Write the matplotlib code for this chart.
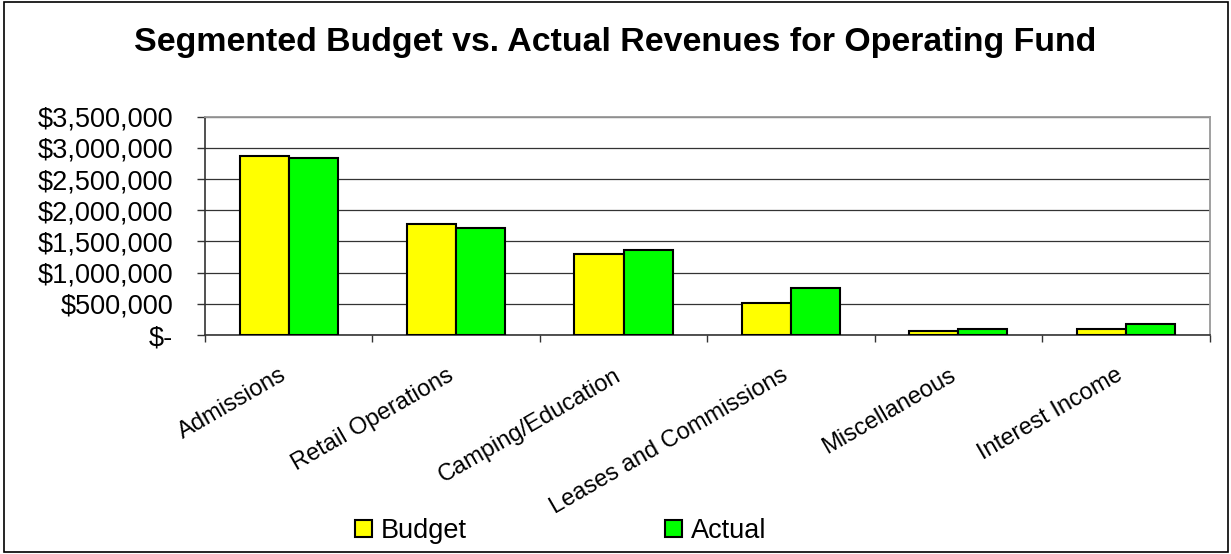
import matplotlib
matplotlib.use("Agg")
import matplotlib.pyplot as plt
import matplotlib.transforms as mtransforms
from matplotlib.patches import Patch, Rectangle
import numpy as np

plt.rcParams['font.family'] = ['Liberation Sans', 'DejaVu Sans']

categories = ["Admissions", "Retail Operations", "Camping/Education",
              "Leases and Commissions", "Miscellaneous", "Interest Income"]
budget = [2870000, 1775000, 1300000, 513000, 64000, 100000]
actual = [2840000, 1715000, 1360000, 748000, 102000, 170000]
y_ticks = [0, 500000, 1000000, 1500000, 2000000, 2500000, 3000000, 3500000]
y_tick_labels = ["$-", "$500,000", "$1,000,000", "$1,500,000", "$2,000,000",
                 "$2,500,000", "$3,000,000", "$3,500,000"]

W, H, DPI = 1231, 554, 100
fig = plt.figure(figsize=(W / DPI, H / DPI), dpi=DPI)
fig.patch.set_facecolor("white")

left, right, top, bottom = 205 / W, 1209.5 / W, 1 - 116.7 / H, 1 - 335 / H
ax = fig.add_axes([left, bottom, right - left, top - bottom])

x = np.arange(len(categories))
bw = 0.293
ax.bar(x - bw / 2, budget, bw, color="#FFFF00", edgecolor="black", linewidth=1.5,
       label="Budget", zorder=3)
ax.bar(x + bw / 2, actual, bw, color="#00FF00", edgecolor="black", linewidth=1.5,
       label="Actual", zorder=3)

ax.set_xlim(-0.5, len(categories) - 0.5)
ax.set_ylim(0, 3500000)

ax.set_yticks(y_ticks)
ax.set_yticklabels(y_tick_labels, fontsize=19.5)
ax.tick_params(axis="y", direction="out", length=5.8, width=1, pad=17,
               color="#333333")
ax.yaxis.grid(True, color="#333333", linewidth=0.9, zorder=0)
ax.set_axisbelow(True)

# boundaries between categories carry the ticks; names sit at the centres
ax.set_xticks(np.arange(len(categories) + 1) - 0.5)
ax.set_xticklabels([])
ax.tick_params(axis="x", which="major", direction="out", length=5, width=1,
               color="#333333")
ax.set_xticks(x, minor=True)
ax.set_xticklabels(categories, minor=True, fontsize=17, rotation=30,
                   ha="right", va="top", rotation_mode="anchor")
ax.tick_params(axis="x", which="minor", length=0, pad=21)
shift = mtransforms.ScaledTranslation(-10 / DPI, 0, fig.dpi_scale_trans)
for lab in ax.get_xticklabels(minor=True):
    lab.set_transform(lab.get_transform() + shift)

for side in ("top", "right"):
    ax.spines[side].set_color("#999999")
    ax.spines[side].set_linewidth(1.3)
for side in ("left", "bottom"):
    ax.spines[side].set_color("#333333")
    ax.spines[side].set_linewidth(1.2)

fig.text(0.5, 1 - 43 / H, "Segmented Budget vs. Actual Revenues for Operating Fund",
         ha="center", va="center", fontsize=24.4, fontweight="bold")

handles = [Patch(facecolor="#FFFF00", edgecolor="black", linewidth=1.5),
           Patch(facecolor="#00FF00", edgecolor="black", linewidth=1.5)]
fig.legend(handles, ["Budget", "Actual"], loc="center left",
           bbox_to_anchor=(355 / W, 1 - 531 / H), ncol=2, frameon=False,
           fontsize=19.5, handlelength=0.63, handleheight=0.63,
           handletextpad=0.33, columnspacing=7.3, borderpad=0,
           borderaxespad=0)

fig.patches.append(Rectangle((4 / W, 1 - 552 / H), (1228 - 4) / W, (552 - 2) / H,
                             transform=fig.transFigure, fill=False,
                             edgecolor="black", linewidth=1.2))

fig.savefig("out.png", dpi=DPI)
